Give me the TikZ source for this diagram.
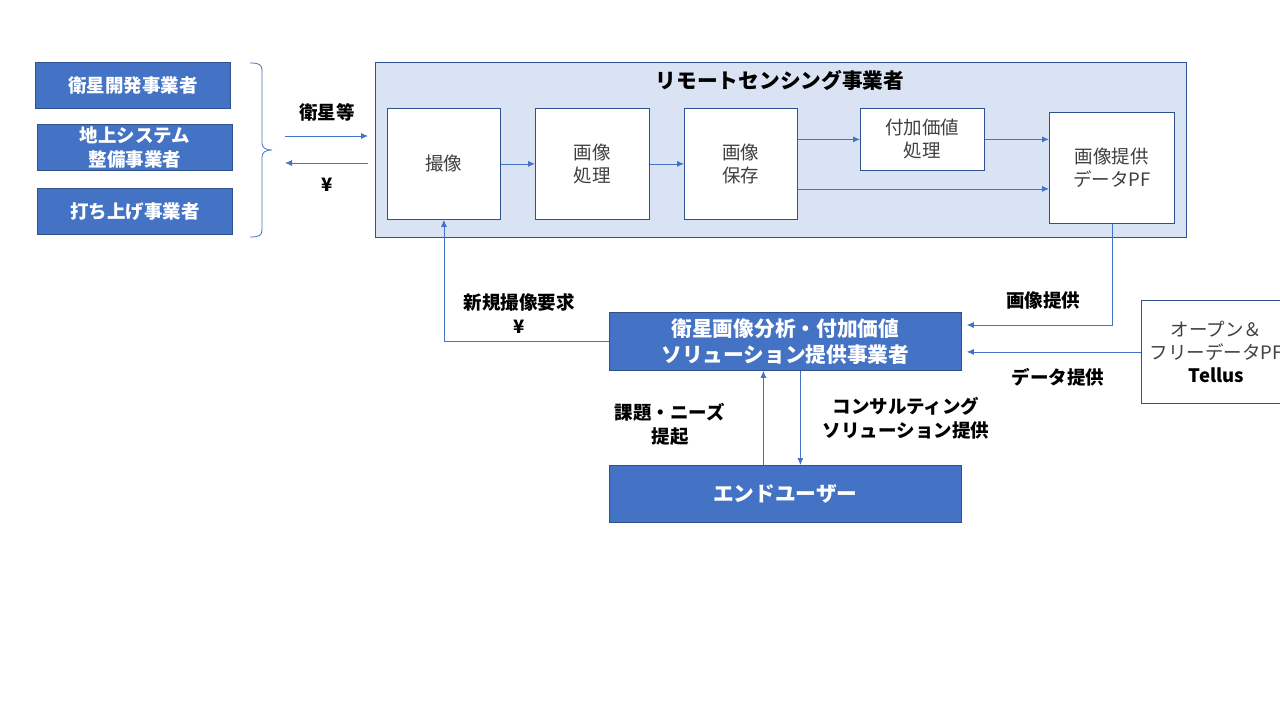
\documentclass[tikz,border=0pt]{standalone}
\usepackage{fontspec}
\setmainfont{Noto Sans CJK JP}
\usetikzlibrary{arrows.meta,calc}
\definecolor{fillblue}{HTML}{4472C4}
\definecolor{edgeblue}{HTML}{2F528F}
\definecolor{lightblue}{HTML}{DAE3F3}
\definecolor{txtgray}{HTML}{404040}
\tikzset{
 dark/.style={draw=edgeblue, fill=fillblue, text=white, font=\fontsize{18.5}{24}\selectfont\bfseries, align=center, inner sep=0pt, anchor=north west, line width=0.8pt},
 wbox/.style={draw=edgeblue, fill=white, text=txtgray, font=\fontsize{18.5}{23}\selectfont, align=center, inner sep=0pt, anchor=north west, line width=0.8pt},
 lab/.style={font=\fontsize{18.5}{24}\selectfont\bfseries, align=center, text=black},
 arr/.style={draw=fillblue, line width=0.8pt, -{Latex[length=7pt,width=6pt]}},
}
\begin{document}
\begin{tikzpicture}[x=1pt,y=-1pt]
\useasboundingbox (0,0) rectangle (1280,720);
\clip (0,0) rectangle (1280,720);
% left boxes
\node[dark, minimum width=195, minimum height=46] (sat) at (35,62) {衛星開発事業者};
\node[dark, minimum width=195, minimum height=46] (gnd) at (37,124) {地上システム\\整備事業者};
\node[dark, minimum width=195, minimum height=46] (lau) at (37,188) {打ち上げ事業者};
% brace
\draw[fillblue, line width=0.8pt] (250,63) .. controls (258,63) and (262,64) .. (262,70) -- (262,143) .. controls (262,148) and (266,150) .. (272,150) .. controls (266,150) and (262,152) .. (262,157) -- (262,230) .. controls (262,236) and (258,237) .. (250,237);
% remote sensing box
\node[draw=edgeblue, fill=lightblue, minimum width=811, minimum height=175, anchor=north west, inner sep=0pt, line width=0.8pt] (rs) at (375,62) {};
\node[lab, font=\fontsize{20.7}{24}\selectfont\bfseries] (rstitle) at (780,80) {リモートセンシング事業者};
\node[wbox, minimum width=113, minimum height=111] (img) at (387,108) {撮像};
\node[wbox, minimum width=114, minimum height=111] (proc) at (535,108) {画像\\処理};
\node[wbox, minimum width=113, minimum height=111] (save) at (684,108) {画像\\保存};
\node[wbox, minimum width=124, minimum height=62] (addv) at (860,108) {付加価値\\処理};
\node[wbox, minimum width=125, minimum height=111] (pf) at (1049,112) {画像提供\\データPF};
% solution, end user, open data
\node[dark, font=\fontsize{20.7}{26}\selectfont\bfseries, minimum width=352, minimum height=58] (sol) at (609,312) {衛星画像分析・付加価値\\ソリューション提供事業者};
\node[dark, font=\fontsize{20.7}{26}\selectfont\bfseries, minimum width=352, minimum height=57] (end) at (609,465) {エンドユーザー};
\node[wbox, minimum width=150, minimum height=103] (open) at (1141,300) {オープン＆\\フリーデータPF\\{\bfseries\color{black}Tellus}};
% left arrows
\coordinate (a1s) at (285,136);
\coordinate (a2s) at (368,163);
\coordinate (a2e) at (285,163);
\draw[arr, shorten >=7pt] (a1s) -- (a1s -| rs.west);
\draw[arr] (a2s) -- (a2e);
\node[lab] (l1) at (327,112) {衛星等};
\node[lab] (l2) at (327,185) {¥};
% inner arrows
\draw[arr] (img) -- (proc);
\draw[arr] (proc) -- (save);
\draw[arr] (save.east |- addv.west) -- (addv.west);
\draw[arr] (addv.east) -- (addv.east -| pf.west);
\draw[arr] ([yshift=-25pt]save.east) -- ([yshift=-25pt]save.east -| pf.west);
% to solution
\draw[arr, shorten >=5pt] (pf.south) |- (sol.east |- 0,325);
\draw[arr, shorten >=5pt] (open.west) -- (open.west -| sol.east);
\draw[arr] (sol.west) -| (img.south);
\draw[arr] ([xshift=-22pt]end.north) -- ([xshift=-22pt]sol.south);
\draw[arr] ([xshift=15pt]sol.south) -- ([xshift=15pt]end.north);
% labels
\node[lab] (l3) at (519,313) {新規撮像要求\\¥};
\node[lab] (l4) at (1043,300) {画像提供};
\node[lab] (l5) at (1058,377) {データ提供};
\node[lab] (l6) at (670,424) {課題・ニーズ\\提起};
\node[lab] (l7) at (906,418) {コンサルティング\\ソリューション提供};
\end{tikzpicture}
\end{document}
